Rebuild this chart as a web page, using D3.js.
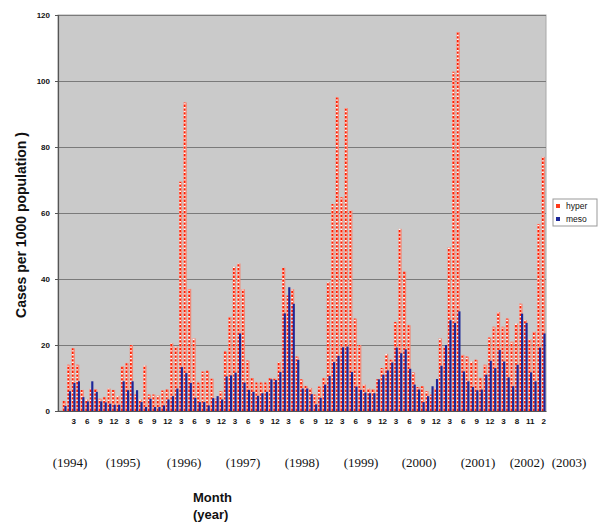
<!DOCTYPE html>
<html>
<head>
<meta charset="utf-8">
<script src="https://cdn.jsdelivr.net/npm/d3@7"></script>
<style>
  body { margin: 0; background: #fff; }
  svg { display: block; }
</style>
</head>
<body>
<div id="chart"></div>
<script>
// month labels, one per category; first slot is empty
var months = ['',
  '1', '2', '3', '4', '5', '6', '7', '8', '9', '10', '11', '12',
  '1', '2', '3', '4', '5', '6', '7', '8', '9', '10', '11', '12',
  '1', '2', '3', '4', '5', '6', '7', '8', '9', '10', '11', '12',
  '1', '2', '3', '4', '5', '6', '7', '8', '9', '10', '11', '12',
  '1', '2', '3', '4', '5', '6', '7', '8', '9', '10', '11', '12',
  '1', '2', '3', '4', '5', '6', '7', '8', '9', '10', '11', '12',
  '1', '2', '3', '4', '5', '6', '7', '8', '9', '10', '11', '12',
  '1', '2', '3', '4', '5', '6', '7', '8', '9', '10', '11', '12',
  '1', '2', '3', '4', '6', '8', '9', '10', '11', '12',
  '1', '2'
];

var hyper = [0,
  3, 14, 19, 14, 6.4, 3.5, 6.8, 6.6, 3.7, 4.2, 6.8, 6.4,
  4.6, 13.5, 14.5, 20, 5, 3.5, 13.8, 5, 5, 4.7, 6.2, 6.5,
  20.5, 19.5, 69.5, 93.5, 37, 22, 8.6, 12, 12.2, 9.8, 3.7, 6,
  18, 28.4, 43.7, 44.7, 36.9, 15.3, 10, 8.6, 8.6, 8.6, 10, 9.8,
  14.8, 43.4, 35, 36.9, 16.5, 9.6, 7.6, 7, 5, 7.4, 10, 39,
  62.7, 95, 64.8, 91.8, 60.7, 28, 20, 8, 6.8, 6.6, 9.6, 13,
  17.3, 15.5, 27, 55.2, 42.2, 26, 11.7, 7.3, 7.5, 6, 5, 7,
  22, 19.5, 49.6, 102.8, 114.8, 17, 16.5, 15, 15.5, 10, 14, 22.3,
  25.5, 30, 25.5, 28, 21, 26.5, 32.5, 27.5, 21.7, 24,
  56.7, 77
];

var meso = [0,
  1.5, 6, 8.5, 9, 4.2, 2.9, 9, 5.8, 2.9, 2.6, 2.2, 1.9,
  1.9, 9, 6.3, 9, 6.3, 2.7, 1.2, 3.7, 1.2, 1.2, 1.7, 3.5,
  4.5, 6.8, 13.3, 11.5, 8.5, 4, 2.7, 2.7, 1.7, 3.9, 4.5, 3.5,
  10.5, 10.8, 11.6, 23.5, 8.6, 6.4, 5.8, 4.6, 5.4, 5.8, 9.6, 9.4,
  11.8, 29.6, 37.5, 32.5, 15.5, 6.8, 6.8, 5.1, 2, 4, 8, 10.6,
  14.8, 16.7, 19.3, 19.5, 11.8, 7.4, 6.4, 5.6, 5.4, 5.4, 9.6, 11,
  12.3, 14.7, 19.2, 17.5, 18.7, 12.8, 8, 6.5, 2.7, 4.5, 7.5, 9.7,
  13.7, 20, 27.5, 26.7, 30.2, 12, 9, 7.3, 6.3, 6.5, 11, 15.2,
  13, 18.5, 15, 10.2, 7.5, 14, 29.5, 26.7, 11.7, 9,
  19.2, 23.5
];

var years = ['(1994)', '(1995)', '(1996)', '(1997)', '(1998)', '(1999)', '(2000)', '(2001)', '(2002)', '(2003)'];
var yTicks = [0, 20, 40, 60, 80, 100, 120];
var seriesNames = ['hyper', 'meso'];

var width = 600;
var height = 528;
var margin = {top: 15, right: 54, bottom: 117, left: 58};
var innerW = width - margin.left - margin.right;
var innerH = height - margin.top - margin.bottom;

var svg = d3.select('#chart').append('svg')
  .attr('width', width)
  .attr('height', height)
  .style('font-family', 'Arial, "Liberation Sans", sans-serif');

var x = d3.scaleBand()
  .domain(d3.range(months.length))
  .range([0, innerW])
  .padding(0);

var y = d3.scaleLinear()
  .domain([0, 120])
  .range([innerH, 0]);

var g = svg.append('g')
  .attr('transform', 'translate(' + margin.left + ',' + margin.top + ')');

// grey plot area
g.append('rect')
  .attr('width', innerW)
  .attr('height', innerH)
  .attr('fill', '#cacaca')
  .attr('stroke', '#a8a8a8')
  .attr('stroke-width', 1);

g.selectAll('line.grid')
  .data(yTicks.slice(1))
  .enter()
  .append('line')
  .attr('class', 'grid')
  .attr('x1', 0)
  .attr('x2', innerW)
  .attr('y1', function (d) { return Math.round(y(d)) + 0.5; })
  .attr('y2', function (d) { return Math.round(y(d)) + 0.5; })
  .attr('stroke', '#7a7a7a')
  .attr('stroke-width', 1.2);

var bw = x.bandwidth();

// hyper bars: salmon body with red/white checker column
var hyperG = g.append('g');
hyperG.selectAll('rect')
  .data(hyper)
  .enter()
  .append('rect')
  .attr('x', function (d, i) { return x(i) + 0.1; })
  .attr('y', function (d) { return y(d); })
  .attr('width', bw * 0.74)
  .attr('height', function (d) { return innerH - y(d); })
  .attr('fill', '#f08a78');

hyperG.selectAll('line.w')
  .data(hyper)
  .enter()
  .append('line')
  .attr('class', 'w')
  .attr('x1', function (d, i) { return x(i) + 1.3; })
  .attr('x2', function (d, i) { return x(i) + 1.3; })
  .attr('y1', innerH)
  .attr('y2', function (d) { return y(d); })
  .attr('stroke', '#ffffff')
  .attr('stroke-width', function (d) { return d > 0 ? 1.8 : 0; });

hyperG.selectAll('line.r')
  .data(hyper)
  .enter()
  .append('line')
  .attr('class', 'r')
  .attr('x1', function (d, i) { return x(i) + 1.3; })
  .attr('x2', function (d, i) { return x(i) + 1.3; })
  .attr('y1', innerH)
  .attr('y2', function (d) { return y(d); })
  .attr('stroke', '#ff1e00')
  .attr('stroke-width', function (d) { return d > 0 ? 1.8 : 0; })
  .attr('stroke-dasharray', '2.4,1.4');

// meso bars on top
g.append('g').selectAll('rect')
  .data(meso)
  .enter()
  .append('rect')
  .attr('x', function (d, i) { return x(i) + bw * 0.42; })
  .attr('y', function (d) { return y(d); })
  .attr('width', bw * 0.48)
  .attr('height', function (d) { return innerH - y(d); })
  .attr('fill', '#1c2799');

// y axis
var yAxis = g.append('g')
  .call(d3.axisLeft(y).tickValues(yTicks).tickSize(3).tickPadding(5));
yAxis.select('.domain').attr('stroke', '#555').attr('stroke-width', 1.2);
yAxis.selectAll('.tick line').attr('stroke', '#555');
yAxis.selectAll('text')
  .attr('font-size', 8)
  .attr('font-weight', 'bold')
  .attr('font-family', 'Arial, "Liberation Sans", sans-serif')
  .attr('fill', '#111');

// x axis, label every 3rd category
var xAxis = g.append('g')
  .attr('transform', 'translate(0,' + innerH + ')')
  .call(d3.axisBottom(x)
    .tickValues(d3.range(3, months.length, 3))
    .tickFormat(function (i) { return months[i]; })
    .tickSize(0)
    .tickPadding(7));
xAxis.select('.domain').attr('stroke', '#555').attr('stroke-width', 1.2);
xAxis.selectAll('text')
  .attr('font-size', 8)
  .attr('font-weight', 'bold')
  .attr('font-family', 'Arial, "Liberation Sans", sans-serif')
  .attr('fill', '#111');

// year captions under the month labels
var yearX = [70, 123, 184, 243, 302, 361, 419, 478, 527, 569];
svg.selectAll('text.year')
  .data(years)
  .enter()
  .append('text')
  .attr('class', 'year')
  .attr('x', function (d, i) { return yearX[i]; })
  .attr('y', 467)
  .attr('text-anchor', 'middle')
  .attr('font-family', '"Liberation Serif", "Times New Roman", serif')
  .attr('font-size', 13)
  .attr('fill', '#111')
  .text(function (d) { return d; });

svg.append('text')
  .attr('x', 193)
  .attr('y', 502)
  .attr('font-size', 13)
  .attr('font-weight', 'bold')
  .attr('fill', '#111')
  .text('Month');
svg.append('text')
  .attr('x', 193)
  .attr('y', 519)
  .attr('font-size', 13)
  .attr('font-weight', 'bold')
  .attr('fill', '#111')
  .text('(year)');

svg.append('text')
  .attr('transform', 'translate(26,' + 225 + ') rotate(-90)')
  .attr('text-anchor', 'middle')
  .attr('font-size', 14)
  .attr('font-weight', 'bold')
  .attr('fill', '#111')
  .text('Cases per 1000 population )');

// legend
var legend = svg.append('g')
  .attr('transform', 'translate(553,199)');
legend.append('rect')
  .attr('width', 44)
  .attr('height', 27)
  .attr('fill', '#fff')
  .attr('stroke', '#999');
var items = legend.selectAll('g.item')
  .data(seriesNames)
  .enter()
  .append('g')
  .attr('class', 'item')
  .attr('transform', function (d, i) { return 'translate(3,' + (5 + i * 13) + ')'; });
items.append('rect')
  .attr('width', 4)
  .attr('height', 4)
  .attr('fill', function (d, i) { return i === 0 ? '#ff3a1a' : '#1c2799'; });
items.append('text')
  .attr('x', 10)
  .attr('y', 5)
  .attr('font-size', 8.5)
  .attr('fill', '#111')
  .text(function (d) { return d; });
</script>
</body>
</html>
